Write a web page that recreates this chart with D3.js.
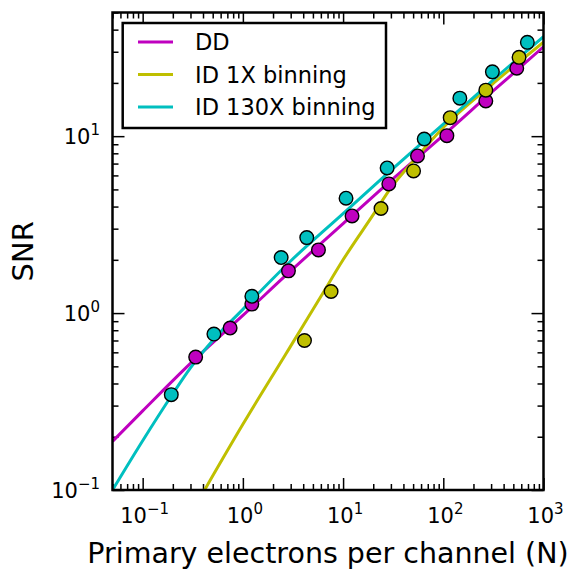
<!DOCTYPE html>
<html><head><meta charset="utf-8">
<script src="https://cdn.jsdelivr.net/npm/d3@7"></script>
<style>body{margin:0;background:#fff}svg{display:block}text{font-family:"DejaVu Sans",sans-serif;fill:#000}</style>
</head><body><svg id="c" width="577" height="569"></svg>
<script>
// Measured points
const ddN = [0.338,0.746,1.229,2.85,5.68,12.29,28.6,55.3,108.6,265.7,540.8];
const ddSNR = [0.564,0.823,1.124,1.733,2.276,3.54,5.37,7.73,10.07,15.8,24.2];
const id1N = [4.12,7.59,23.9,50.5,117.2,265.7,570];
const id1SNR = [0.700,1.324,3.90,6.36,12.72,18.2,27.9];
const id130N = [0.193,0.514,1.229,2.41,4.34,10.7,27.5,64.5,146.3,309,690];
const id130SNR = [0.346,0.761,1.244,2.06,2.67,4.46,6.61,9.64,16.4,23.1,33.9];
// Fit curves
const ddFitN = [0.05,0.1,0.3,1,3,10,30,100,300,1000];
const ddFitSNR = [0.188,0.28,0.52,0.97,1.73,3.2,5.6,10.1,17.6,32];
const id1FitN = [0.415,1,2.6,4,6,10,20,30,50,100,300,1000];
const id1FitSNR = [0.1,0.235,0.57,0.85,1.24,2.0,3.6,5.1,7.2,11.2,19.4,34];
const id130FitN = [0.05,0.1,0.2,0.3,0.5,1,3,10,30,100,300,1000];
const id130FitSNR = [0.1,0.19,0.35,0.49,0.70,1.05,1.97,3.65,6.4,11.7,20.3,36.5];
const seriesNames = ["DD","ID 1X binning","ID 130X binning"];
const seriesColors = ["#bf00bf","#bfbf00","#00bfbf"];
const xMajor = [0.1,1,10,100,1000];
const xExp = ["-1","0","1","2","3"];
const yMajor = [0.1,1,10];
const yExp = ["-1","0","1"];

const svg = d3.select("#c");
const L=112.5,R=543.5,T=12.5,B=490;
const x = d3.scaleLog().domain([0.05,1000]).range([L,R]);
const y = d3.scaleLog().domain([0.1,50]).range([B,T]);

function minors(lo,hi){const out=[];for(let e=-3;e<4;e++){for(let m=2;m<10;m++){const v=m*Math.pow(10,e);if(v>=lo*0.999&&v<=hi*1.001)out.push(v);}}return out;}
const xMin = minors(0.05,1000), yMin = minors(0.1,50);

function axisG(axisFn, scale, vals, size, tx, ty){
  const g = svg.append("g").attr("transform",`translate(${tx},${ty})`)
    .call(axisFn(scale).tickValues(vals).tickSize(size).tickFormat(""));
  g.select(".domain").remove();
  g.selectAll("line").attr("stroke","#000").attr("stroke-width",1.5);
}
// inward ticks on all sides
axisG(d3.axisBottom,x,xMajor,-12,0,B); axisG(d3.axisBottom,x,xMin,-6,0,B);
axisG(d3.axisTop,x,xMajor,-12,0,T); axisG(d3.axisTop,x,xMin,-6,0,T);
axisG(d3.axisLeft,y,yMajor,-12,L,0); axisG(d3.axisLeft,y,yMin,-6,L,0);
axisG(d3.axisRight,y,yMajor,-12,R,0); axisG(d3.axisRight,y,yMin,-6,R,0);

svg.append("clipPath").attr("id","pc").append("rect").attr("x",L).attr("y",T).attr("width",R-L).attr("height",B-T);
const line = d3.line().x(d=>x(d[0])).y(d=>y(d[1])).curve(d3.curveMonotoneX);
const fits = [[ddFitN,ddFitSNR],[id1FitN,id1FitSNR],[id130FitN,id130FitSNR]];
const pts = [[ddN,ddSNR],[id1N,id1SNR],[id130N,id130SNR]];
const gp = svg.append("g").attr("clip-path","url(#pc)");
fits.forEach((f,i)=>{
  gp.append("path").datum(f[0].map((n,j)=>[n,f[1][j]])).attr("d",line)
    .attr("fill","none").attr("stroke",seriesColors[i]).attr("stroke-width",3);
});
pts.forEach((p,i)=>{
  gp.selectAll(null).data(p[0].map((n,j)=>[n,p[1][j]])).enter().append("circle")
    .attr("cx",d=>x(d[0])).attr("cy",d=>y(d[1])).attr("r",6.8)
    .attr("fill",seriesColors[i]).attr("stroke","#000").attr("stroke-width",1.4);
});

// frame
svg.append("rect").attr("x",L).attr("y",T).attr("width",R-L).attr("height",B-T)
  .attr("fill","none").attr("stroke","#000").attr("stroke-width",2.5);

// tick labels
xMajor.forEach((v,i)=>{
  const t = svg.append("text").attr("x",x(v)+2).attr("y",523).attr("text-anchor","middle").attr("font-size",21);
  t.append("tspan").text("10");
  t.append("tspan").attr("dy",-9).attr("font-size",15).text(xExp[i].replace("-","\u2212"));
});
yMajor.forEach((v,i)=>{
  const t = svg.append("text").attr("x",100).attr("y",y(v)+8).attr("text-anchor","end").attr("font-size",21);
  t.append("tspan").text("10");
  t.append("tspan").attr("dy",-9).attr("font-size",15).text(yExp[i].replace("-","\u2212"));
});

// axis labels
svg.append("text").attr("x",(L+R)/2).attr("y",563).attr("text-anchor","middle").attr("font-size",28.5)
  .text("Primary electrons per channel (N)");
svg.append("text").attr("transform",`translate(33,${(T+B)/2}) rotate(-90)`).attr("text-anchor","middle").attr("font-size",29).text("SNR");

// legend
const lg = svg.append("g");
lg.append("rect").attr("x",122.7).attr("y",23).attr("width",263.3).attr("height",105)
  .attr("fill","#fff").attr("stroke","#000").attr("stroke-width",2.5);
seriesNames.forEach((s,i)=>{
  const yy = 42 + i*32.5;
  lg.append("line").attr("x1",138).attr("x2",173).attr("y1",yy).attr("y2",yy).attr("stroke",seriesColors[i]).attr("stroke-width",3);
  lg.append("text").attr("x",195).attr("y",yy+8).attr("font-size",22.5).text(s);
});
</script></body></html>
